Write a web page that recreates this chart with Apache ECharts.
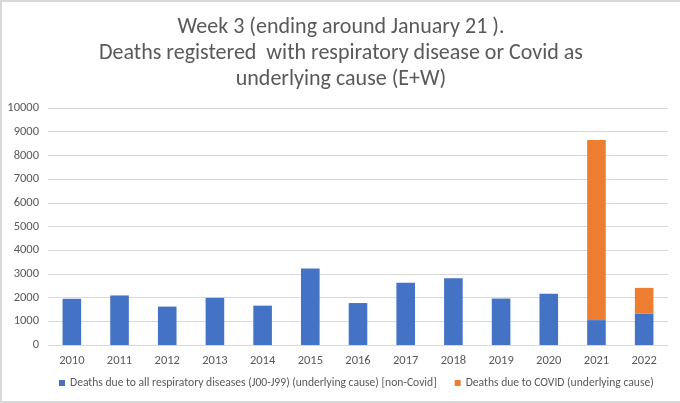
<!DOCTYPE html>
<html><head><meta charset="utf-8">
<script src="https://cdn.jsdelivr.net/npm/echarts@6/dist/echarts.min.js"></script>
<style>
html,body{margin:0;padding:0;background:#fff;}
#c{width:680px;height:403px;box-sizing:border-box;border-left:2px solid #d9d9d9;border-top:2px solid #d9d9d9;border-bottom:2px solid #d9d9d9;}
</style></head>
<body><div id="c"></div>
<script>
const categories = ['2010','2011','2012','2013','2014','2015','2016','2017','2018','2019','2020','2021','2022'];
const respiratory = [1950,2090,1620,1990,1660,3230,1770,2630,2820,1960,2160,1050,1330];
const covid = [null,null,null,null,null,null,null,null,null,null,null,7600,1080];
const yTicks = [0,1000,2000,3000,4000,5000,6000,7000,8000,9000,10000];
const titleText = 'Week 3 (ending around January 21 ).\nDeaths registered  with respiratory disease or Covid as\nunderlying cause (E+W)';
const seriesNames = ['Deaths due to all respiratory diseases (J00-J99) (underlying cause) [non-Covid]','Deaths due to COVID (underlying cause)'];
const FONT = 'Carlito, Lato, sans-serif';
const chart = echarts.init(document.getElementById('c'), null, {renderer:'canvas'});
chart.setOption({
  animation:false,
  textStyle:{fontFamily:FONT},
  title:{text:titleText,left:'center',top:7,textStyle:{fontFamily:FONT,fontSize:22,fontWeight:'normal',color:'#595959',lineHeight:26}},
  legend:{bottom:7,left:52,itemWidth:6,itemHeight:6,itemGap:18,icon:'rect',textStyle:{fontFamily:FONT,fontSize:11.6,color:'#595959'},data:seriesNames},
  grid:{left:46,right:12,top:106,bottom:56,containLabel:false},
  xAxis:{type:'category',data:categories,axisLine:{lineStyle:{color:'#d9d9d9'}},axisTick:{show:false},axisLabel:{color:'#595959',fontSize:12.5,fontFamily:FONT,margin:9}},
  yAxis:{type:'value',min:yTicks[0],max:yTicks[yTicks.length-1],interval:1000,axisLine:{show:false},axisTick:{show:false},splitLine:{lineStyle:{color:'#d9d9d9'}},axisLabel:{color:'#595959',fontSize:12.5,fontFamily:FONT,margin:9,formatter:function(v){return String(v);}}},
  series:[
    {name:seriesNames[0],type:'bar',stack:'a',data:respiratory,barWidth:'39%',itemStyle:{color:'#4472c4'}},
    {name:seriesNames[1],type:'bar',stack:'a',data:covid,barWidth:'39%',itemStyle:{color:'#ed7d31'}}
  ]
});
</script></body></html>
